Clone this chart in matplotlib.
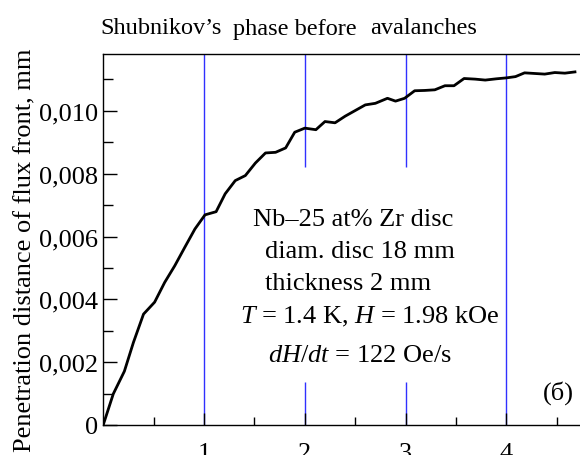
import numpy as np
import matplotlib
matplotlib.use("Agg")
import matplotlib.pyplot as plt

plt.rcParams['font.family'] = ['Liberation Serif', 'DejaVu Serif']
plt.rcParams['mathtext.fontset'] = 'custom'
plt.rcParams['mathtext.rm'] = 'Liberation Serif'
plt.rcParams['mathtext.it'] = 'Liberation Serif:italic'

# time, s  /  penetration depth, mm
t = [0, 0.10, 0.21, 0.30, 0.40, 0.51, 0.61, 0.71, 0.81, 0.91, 1.01, 1.12,
     1.21, 1.31, 1.41, 1.51, 1.61, 1.71, 1.81, 1.90, 2.00, 2.11, 2.20, 2.30,
     2.40, 2.50, 2.60, 2.70, 2.82, 2.90, 2.99, 3.09, 3.19, 3.29, 3.39, 3.48,
     3.58, 3.69, 3.79, 3.90, 4.00, 4.09, 4.18, 4.28, 4.38, 4.48, 4.58, 4.68]
depth = [0, 0.99, 1.71, 2.63, 3.53, 3.91, 4.54, 5.07, 5.66, 6.24, 6.69, 6.79,
         7.36, 7.78, 7.94, 8.34, 8.66, 8.68, 8.82, 9.32, 9.45, 9.40, 9.66, 9.62,
         9.83, 10.01, 10.19, 10.24, 10.40, 10.31, 10.40, 10.64, 10.65, 10.67, 10.80, 10.80,
         11.03, 11.01, 10.98, 11.02, 11.05, 11.09, 11.21, 11.19, 11.17, 11.22, 11.20, 11.24]
depth = [d * 1e-3 for d in depth]

# blue marker lines (x, ymin, ymax)
mark_x = [1, 2, 2, 3, 3, 4]
mark_lo = [0, 0, 0.00822, 0, 0.00822, 0]
mark_hi = [0.0119, 0.00137, 0.0119, 0.00137, 0.0119, 0.0119]

ytick_vals = [0, 0.002, 0.004, 0.006, 0.008, 0.010]
ytick_labels = ['0', '0,002', '0,004', '0,006', '0,008', '0,010']
xtick_vals = [1, 2, 3, 4]
xtick_labels = ['1', '2', '3', '4']

W, H = 580, 456
fig = plt.figure(figsize=(5.8, 4.56), dpi=100)
ax = fig.add_axes([103.2 / W, 30 / H, 1 - 103.2 / W, 371 / H])

ax.vlines(mark_x, mark_lo, mark_hi, colors='#3030ff', lw=1.0, zorder=1)
ax.plot(t, depth, color='black', lw=2.0, zorder=2)

ax.set_xlim(0, 4.73)
ax.set_ylim(0, 0.01181)
ax.spines['right'].set_visible(False)
for s in ['left', 'bottom', 'top']:
    ax.spines[s].set_linewidth(1.0)

ax.set_yticks(ytick_vals)
ax.set_yticklabels(ytick_labels)
ax.set_yticks(np.arange(0.001, 0.0118, 0.002), minor=True)
ax.set_xticks(xtick_vals)
ax.set_xticklabels(xtick_labels)
ax.set_xticks([0.5, 1.5, 2.5, 3.5, 4.5], minor=True)
ax.tick_params(axis='both', which='both', direction='in', labelsize=19, width=1.0)
ax.tick_params(axis='y', which='major', length=10, pad=4)
ax.tick_params(axis='y', which='minor', length=7)
ax.tick_params(axis='x', which='major', length=9, pad=12)
ax.tick_params(axis='x', which='minor', length=6)

fig.text(25 / W, 1 - 250 / H, 'Penetration distance of flux front, mm',
         rotation=90, ha='center', va='center', fontsize=19)

# title pieces
fig.text(100 / W, 1 - 34 / H, 'Shubnikov\u2019s', fontsize=17.5, va='baseline')
fig.text(233 / W, 1 - 35 / H, 'phase before', fontsize=17.5, va='baseline')
fig.text(370 / W, 1 - 34 / H, 'avalanches', fontsize=17.5, va='baseline')

notes = ['Nb\u201325 at% Zr disc', 'diam. disc 18 mm', 'thickness 2 mm',
         r'$T$ = 1.4 K, $H$ = 1.98 kOe', r'$dH/dt$ = 122 Oe/s']
note_x = [253, 265, 265, 240, 268]
note_y = [226, 258, 290, 323, 362]
for s, px, py in zip(notes, note_x, note_y):
    fig.text(px / W, 1 - py / H, s, fontsize=19, va='baseline')
fig.text(543 / W, 1 - 400 / H, '(\u0431)', fontsize=19, va='baseline')

fig.savefig('out.png', dpi=100)
